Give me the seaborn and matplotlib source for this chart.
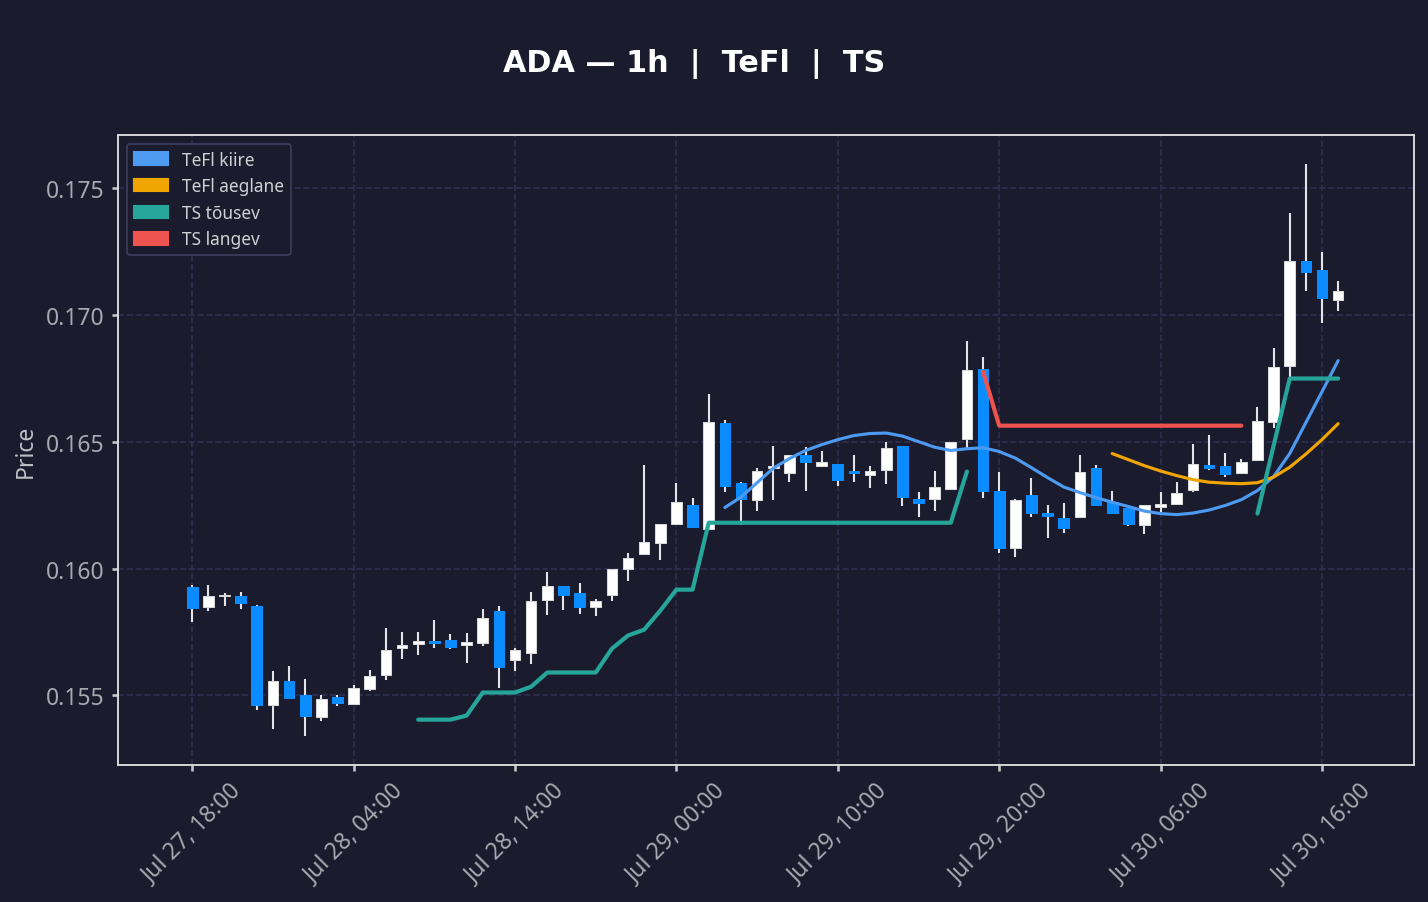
import matplotlib
matplotlib.use('Agg')
import matplotlib.pyplot as plt
from matplotlib.patches import Patch
import numpy as np
import pandas as pd
import seaborn as sns

# 1h candles starting Jul 27, 18:00
times = pd.date_range('2025-07-27 18:00', periods=72, freq='h')

opens = [0.15928, 0.15847, 0.15890, 0.15892, 0.15853, 0.15461, 0.15557, 0.15503, 0.15413, 0.15494,
         0.15465, 0.15526, 0.15579, 0.15687, 0.15703, 0.15716, 0.15720, 0.15697, 0.15707, 0.15833,
         0.15640, 0.15667, 0.15875, 0.15932, 0.15904, 0.15849, 0.15896, 0.15999, 0.16056, 0.16101,
         0.16175, 0.16251, 0.16158, 0.16575, 0.16338, 0.16271, 0.16397, 0.16378, 0.16449, 0.16404,
         0.16413, 0.16385, 0.16370, 0.16389, 0.16484, 0.16273, 0.16275, 0.16313, 0.16512, 0.16789,
         0.16307, 0.16082, 0.16291, 0.16220, 0.16200, 0.16204, 0.16397, 0.16263, 0.16239, 0.16171,
         0.16242, 0.16255, 0.16309, 0.16408, 0.16404, 0.16378, 0.16427, 0.16579, 0.16800, 0.17214,
         0.17178, 0.17060]
highs = [0.15937, 0.15937, 0.15905, 0.15908, 0.15858, 0.15596, 0.15616, 0.15566, 0.15503, 0.15503,
         0.15542, 0.15598, 0.15767, 0.15748, 0.15748, 0.15799, 0.15740, 0.15744, 0.15842, 0.15853,
         0.15688, 0.15909, 0.15987, 0.15932, 0.15945, 0.15882, 0.16000, 0.16063, 0.16410, 0.16176,
         0.16339, 0.16280, 0.16690, 0.16588, 0.16342, 0.16397, 0.16485, 0.16449, 0.16480, 0.16464,
         0.16413, 0.16449, 0.16405, 0.16500, 0.16484, 0.16303, 0.16385, 0.16500, 0.16899, 0.16836,
         0.16383, 0.16275, 0.16358, 0.16251, 0.16258, 0.16449, 0.16408, 0.16307, 0.16239, 0.16250,
         0.16303, 0.16340, 0.16492, 0.16529, 0.16458, 0.16434, 0.16639, 0.16872, 0.17404, 0.17598,
         0.17251, 0.17136]
lows = [0.15790, 0.15832, 0.15851, 0.15839, 0.15441, 0.15369, 0.15484, 0.15338, 0.15398, 0.15457,
        0.15463, 0.15516, 0.15559, 0.15642, 0.15661, 0.15688, 0.15682, 0.15629, 0.15693, 0.15527,
        0.15595, 0.15622, 0.15816, 0.15838, 0.15819, 0.15812, 0.15871, 0.15950, 0.16056, 0.16032,
        0.16175, 0.16165, 0.16158, 0.16303, 0.16171, 0.16228, 0.16269, 0.16340, 0.16305, 0.16404,
        0.16325, 0.16340, 0.16317, 0.16333, 0.16247, 0.16202, 0.16226, 0.16309, 0.16467, 0.16277,
        0.16062, 0.16045, 0.16202, 0.16120, 0.16141, 0.16204, 0.16251, 0.16220, 0.16167, 0.16135,
        0.16224, 0.16255, 0.16303, 0.16388, 0.16360, 0.16372, 0.16423, 0.16555, 0.16752, 0.17094,
        0.16968, 0.17015]
closes = [0.15845, 0.15892, 0.15891, 0.15865, 0.15461, 0.15557, 0.15488, 0.15417, 0.15487, 0.15469,
          0.15527, 0.15577, 0.15680, 0.15699, 0.15716, 0.15707, 0.15690, 0.15711, 0.15806, 0.15611,
          0.15680, 0.15873, 0.15932, 0.15895, 0.15847, 0.15873, 0.15999, 0.16042, 0.16105, 0.16176,
          0.16263, 0.16165, 0.16579, 0.16326, 0.16275, 0.16385, 0.16405, 0.16449, 0.16421, 0.16421,
          0.16351, 0.16378, 0.16385, 0.16476, 0.16283, 0.16259, 0.16322, 0.16500, 0.16785, 0.16307,
          0.16082, 0.16271, 0.16220, 0.16209, 0.16161, 0.16381, 0.16251, 0.16220, 0.16176, 0.16250,
          0.16255, 0.16299, 0.16413, 0.16398, 0.16374, 0.16421, 0.16583, 0.16796, 0.17214, 0.17170,
          0.17068, 0.17096]

# indicator lines (first candle index + values)
tefl_fast_start = 33
tefl_fast = [0.16241, 0.16282, 0.16339, 0.16396, 0.16434, 0.16466, 0.16489, 0.16509, 0.16525, 0.16533,
             0.16535, 0.16523, 0.16501, 0.16479, 0.16466, 0.16473, 0.16477, 0.16462, 0.16436, 0.16398,
             0.16359, 0.16322, 0.16300, 0.16280, 0.16262, 0.16245, 0.16227, 0.16217, 0.16213, 0.16219,
             0.16231, 0.16249, 0.16272, 0.16308, 0.16363, 0.16454, 0.16576, 0.16698, 0.16821]
tefl_slow_start = 57
tefl_slow = [0.16454, 0.16430, 0.16406, 0.16385, 0.16367, 0.16351, 0.16341, 0.16337, 0.16335, 0.16339,
             0.16361, 0.16400, 0.16452, 0.16509, 0.16572]
ts_up1_start = 14
ts_up1 = [0.15404, 0.15404, 0.15404, 0.15420, 0.15511, 0.15511, 0.15511, 0.15534, 0.15590, 0.15590,
          0.15590, 0.15590, 0.15684, 0.15736, 0.15759, 0.15834, 0.15917, 0.15917, 0.16181, 0.16181,
          0.16181, 0.16181, 0.16181, 0.16181, 0.16181, 0.16181, 0.16181, 0.16181, 0.16181, 0.16181,
          0.16181, 0.16181, 0.16181, 0.16181, 0.16383]
ts_up2_start = 66
ts_up2 = [0.16217, 0.16485, 0.16750, 0.16750, 0.16750, 0.16750]
ts_down_start = 49
ts_down = [0.16777] + [0.16564] * 16

BG = '#1b1b2e'
UP_COL = '#ffffff'
DOWN_COL = '#0a8cff'
FAST_COL = '#4d9af1'
SLOW_COL = '#f0a500'
TSUP_COL = '#26a69a'
TSDN_COL = '#ef5350'

sns.set_theme(style='darkgrid', rc={
    'figure.facecolor': BG,
    'axes.facecolor': BG,
    'axes.edgecolor': '#dcdce0',
    'axes.linewidth': 0.9,
    'grid.color': '#2f3050',
    'grid.linestyle': '--',
    'grid.linewidth': 0.8,
    'xtick.bottom': True,
    'ytick.left': True,
    'xtick.color': '#c8c8cc',
    'ytick.color': '#c8c8cc',
    'xtick.major.size': 3,
    'ytick.major.size': 3,
})
plt.rcParams['font.family'] = ['Noto Sans', 'DejaVu Sans']

fig = plt.figure(figsize=(9.52, 6.02), dpi=150)
ax = fig.add_axes([118 / 1428, 1 - 766 / 903, 1296 / 1428, 630 / 903])

o = np.array(opens)
h = np.array(highs)
l = np.array(lows)
c = np.array(closes)
x = np.arange(len(o))
up = c >= o
body_lo = np.minimum(o, c)
body_h = np.maximum(np.abs(c - o), 0.00005)
colors = np.where(up, UP_COL, DOWN_COL)
edges = np.where(up, '#d8d8d8', DOWN_COL)

ax.vlines(x, l, h, color='#e4e4e8', linewidth=1.0, zorder=2)
ax.bar(x, body_h, bottom=body_lo, width=0.66, color=colors, edgecolor=edges,
       linewidth=0.5, zorder=3)

for start, vals, col, lw in [(tefl_fast_start, tefl_fast, FAST_COL, 1.5),
                             (tefl_slow_start, tefl_slow, SLOW_COL, 1.5),
                             (ts_up1_start, ts_up1, TSUP_COL, 2.0),
                             (ts_up2_start, ts_up2, TSUP_COL, 2.0),
                             (ts_down_start, ts_down, TSDN_COL, 2.0)]:
    xs = np.arange(start, start + len(vals))
    sns.lineplot(x=xs, y=vals, ax=ax, color=col, linewidth=lw, zorder=4)

rng = h.max() - l.min()
ax.set_ylim(l.min() - 0.05 * rng, h.max() + 0.05 * rng)
ax.set_xlim(-4.6, 75.7)

ticks = list(range(0, len(times), 10))
ax.set_xticks(ticks)
ax.set_xticklabels([times[i].strftime('%b %d, %H:%M') for i in ticks],
                   rotation=45, color='#a8a8b0', fontsize=11)
ax.set_yticks([0.155, 0.160, 0.165, 0.170, 0.175])
ax.set_yticklabels(['0.155', '0.160', '0.165', '0.170', '0.175'], color='#a8a8b0', fontsize=11)
ax.set_ylabel('Price', color='#c0c0c8', fontsize=11)
ax.set_xlabel('')
ax.grid(True, which='major')

handles = [Patch(color=FAST_COL, label='TeFl kiire'),
           Patch(color=SLOW_COL, label='TeFl aeglane'),
           Patch(color=TSUP_COL, label='TS tõusev'),
           Patch(color=TSDN_COL, label='TS langev')]
leg = ax.legend(handles=handles, loc='upper left', fontsize=8.3, facecolor=BG,
                edgecolor='#3c3e5e', framealpha=1, labelcolor='#d0d0d4')
leg.get_frame().set_linewidth(0.8)

fig.text(0.486, 0.929, 'ADA — 1h  |  TeFl  |  TS', ha='center', va='center',
         fontsize=14.5, fontweight='bold', color='white', family='DejaVu Sans')

fig.savefig('out.png', dpi=150, facecolor=BG)
